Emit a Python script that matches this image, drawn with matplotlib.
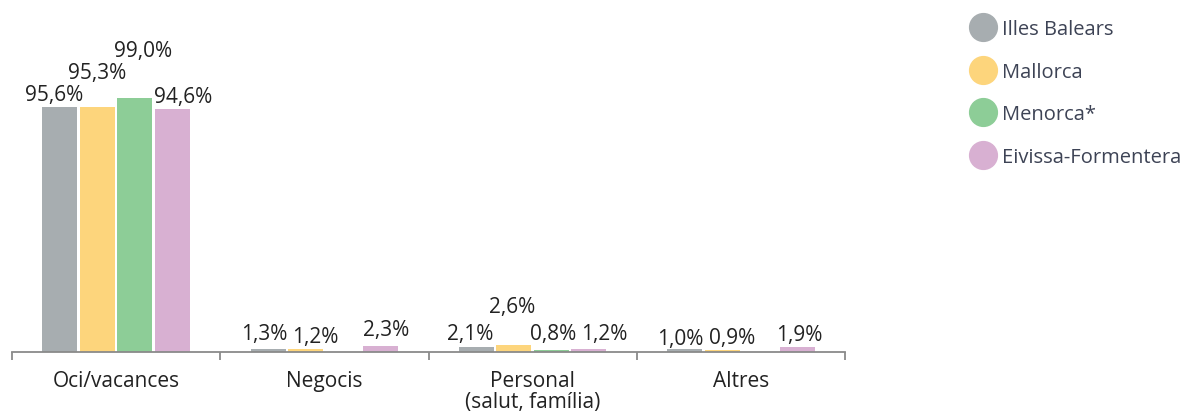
import numpy as np
import matplotlib
matplotlib.use("Agg")
import matplotlib.pyplot as plt
from matplotlib.lines import Line2D

# ---- data ----
categories = ["Oci/vacances", "Negocis", "Personal\n(salut, família)", "Altres"]
series_names = ["Illes Balears", "Mallorca", "Menorca*", "Eivissa-Formentera"]
illes_balears = [95.6, 1.3, 2.1, 1.0]
mallorca = [95.3, 1.2, 2.6, 0.9]
menorca = [99.0, np.nan, 0.8, np.nan]
eivissa_formentera = [94.6, 2.3, 1.2, 1.9]

# ---- style ----
colors = ["#a7adb0", "#fdd57c", "#8dcd97", "#d8b0d2"]
FONT = ["Open Sans", "DejaVu Sans"]
plt.rcParams["font.family"] = FONT

# label pixel offsets (dx, dy) per series per category
label_offsets = [
    [(-6, 12), (-4, 15), (-6, 13), (-4, 11)],
    [(0, 35), (10, 12), (-2, 39), (10, 12)],
    [(8, 47), (0, 0), (2, 16), (0, 0)],
    [(11, 13), (6, 17), (15, 15), (2, 13)],
]

W, H = 1192, 414
fig = plt.figure(figsize=(W / 100, H / 100), dpi=100)
ax_left, ax_right, ax_bottom, ax_top = 12, 845, 353, 30
ax = fig.add_axes([ax_left / W, (H - ax_bottom) / H,
                   (ax_right - ax_left) / W, (ax_bottom - ax_top) / H])

px_per_unit = 2.566
ax.set_ylim(0, (ax_bottom - ax_top) / px_per_unit)
ax.set_xlim(-0.5, len(categories) - 0.5)

x = np.arange(len(categories))
step = 0.18
width = 0.168
all_series = [illes_balears, mallorca, menorca, eivissa_formentera]
for i, (vals, col) in enumerate(zip(all_series, colors)):
    xs = x + (i - 1.5) * step
    ax.bar(xs, vals, width=width, color=col, zorder=2)
    for j, v in enumerate(vals):
        if np.isnan(v):
            continue
        dx, dy = label_offsets[i][j]
        ax.annotate(f"{v:.1f}%".replace(".", ","), (xs[j], v),
                    xytext=(dx, dy), textcoords="offset pixels",
                    ha="center", va="center", fontsize=15, color="#222222")

for s in ["top", "right", "left"]:
    ax.spines[s].set_visible(False)
ax.spines["bottom"].set_color("#8a8a8a")
ax.spines["bottom"].set_linewidth(1.3)
ax.set_yticks([])
ax.set_xticks(x)
ax.set_xticklabels(categories, fontsize=15, color="#222222", linespacing=1.0)
ax.tick_params(axis="x", which="major", length=0, pad=13)
ax.set_xticks(np.arange(-0.5, len(categories)), minor=True)
ax.tick_params(axis="x", which="minor", length=6, width=1.3, color="#8a8a8a")

# legend
handles = [Line2D([0], [0], marker="o", linestyle="", markersize=20,
                  markerfacecolor=c, markeredgecolor=c) for c in colors]
leg = fig.legend(handles, series_names, loc="upper left",
                 bbox_to_anchor=(960 / W, 1 - 12 / H), frameon=False,
                 fontsize=14.5, labelspacing=1.12, handletextpad=0.2,
                 handlelength=1.5, borderaxespad=0)
for t in leg.get_texts():
    t.set_color("#3d4355")

fig.savefig("out.png", dpi=100)
